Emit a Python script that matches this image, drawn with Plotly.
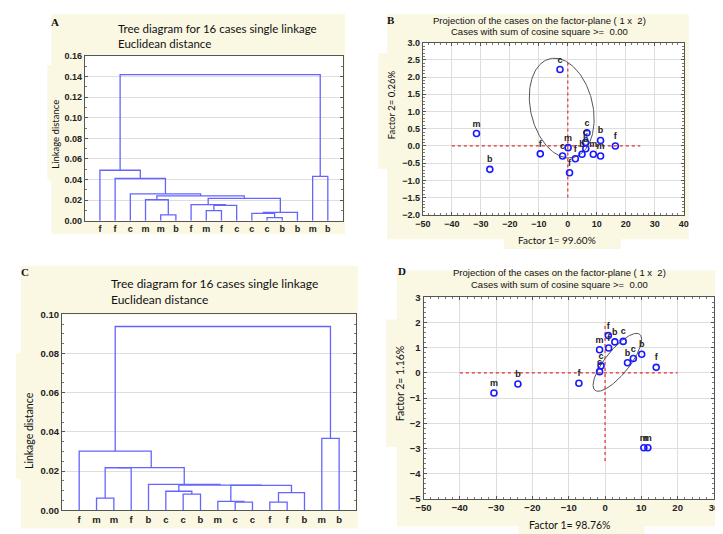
import numpy as np
import plotly.graph_objects as go

W, H = 723, 534

# ---------------- Data ----------------
# Panel A dendrogram
leaves_a = ["f", "f", "c", "m", "m", "b", "f", "m", "f", "c", "c", "c", "b", "b", "m", "b"]
merge_left_a = [4, 3, 7, 18, 6, 11, 10, 22, 20, 17, 2, 1, 0, 14, 28]
merge_right_a = [5, 16, 8, 9, 19, 12, 21, 13, 23, 24, 25, 26, 27, 15, 29]
merge_height_a = [0.0057, 0.0203, 0.0098, 0.0149, 0.0155, 0.0030, 0.0070, 0.0080,
                  0.0216, 0.0240, 0.0260, 0.0410, 0.0490, 0.0430, 0.1420]

# Panel C dendrogram
leaves_c = ["f", "m", "m", "f", "b", "c", "c", "b", "m", "c", "c", "f", "f", "b", "m", "b"]
merge_left_c = [1, 16, 6, 5, 9, 8, 11, 22, 21, 19, 4, 17, 0, 14, 28]
merge_right_c = [2, 3, 7, 18, 10, 20, 12, 13, 23, 24, 25, 26, 27, 15, 29]
merge_height_c = [0.0062, 0.0217, 0.0082, 0.0097, 0.0042, 0.0045, 0.0042, 0.0090,
                  0.0127, 0.0128, 0.0132, 0.0218, 0.0302, 0.0367, 0.0938]

# Panel B scatter (factor plane)
labels_b = ["m", "b", "c", "f", "m", "c", "f", "f", "c", "b", "f", "b", "c", "b", "m", "m"]
f1_b = [-31.5, -26.9, -2.7, -9.5, 0.1, -1.8, 2.6, 0.6, 6.6, 11.3, 16.4, 4.9, 6.1, 6.2, 8.8, 11.3]
f2_b = [0.36, -0.68, 2.22, -0.23, -0.05, -0.29, -0.37, -0.78, 0.38, 0.16, 0.00, -0.24, 0.10, -0.08, -0.24, -0.29]

# Panel D scatter
labels_d = ["m", "b", "f", "f", "m", "m", "f", "b", "c", "m", "f", "b", "c", "b", "c", "c"]
f1_d = [-30.6, -24.0, -7.2, 14.1, 10.7, 11.8, 0.9, 2.7, 5.0, -1.5, 1.0, 6.2, 7.8, 10.1, -1.1, -1.5]
f2_d = [-0.80, -0.44, -0.41, 0.22, -2.97, -2.97, 1.48, 1.23, 1.25, 0.92, 0.99, 0.40, 0.57, 0.74, 0.28, 0.05]

# Ellipse / crosshair parameters
ell_b = dict(cx=-2.1, cy=1.1, ax=10.9, bx=-2.5, ay=1.45)
ell_d = dict(cx=3.4, cy=0.42, A=6.7, B=1.15, phi=0.66)
cross_b = dict(x0=-40, x1=25, y0=-1.5, y1=2.5)
cross_d = dict(x0=-40, x1=20, y0=-3.5, y1=2.0)

BLUE_LINE = "#6464ff"
BEIGE = "#faf7e3"
TICKFONT = dict(family="Liberation Sans", size=9, color="#222", weight="bold")
TF9 = dict(family="Liberation Sans", size=9.5, color="#222", weight="bold")


def dendro(left, right, height, n):
    xpos = {i: i + 1.0 for i in range(n)}
    hpos = {i: 0.0 for i in range(n)}
    xs, ys = [], []
    for k, (l, r, h) in enumerate(zip(left, right, height)):
        xl, xr = xpos[l], xpos[r]
        xs += [xl, xl, xr, xr, None]
        ys += [hpos[l], h, h, hpos[r], None]
        cid = n + k
        xpos[cid] = (xl + xr) / 2
        hpos[cid] = h
    return xs, ys


fig = go.Figure()

xa, ya = dendro(merge_left_a, merge_right_a, merge_height_a, len(leaves_a))
fig.add_trace(go.Scatter(x=xa, y=ya, mode="lines", line=dict(color=BLUE_LINE, width=1.3),
                         xaxis="x", yaxis="y", hoverinfo="skip"))
xc, yc = dendro(merge_left_c, merge_right_c, merge_height_c, len(leaves_c))
fig.add_trace(go.Scatter(x=xc, y=yc, mode="lines", line=dict(color=BLUE_LINE, width=1.3),
                         xaxis="x3", yaxis="y3", hoverinfo="skip"))

t = np.linspace(0, 2 * np.pi, 200)


def add_scatter_panel(xs, ys, labels, ell, cross, xa_, ya_, kind):
    fig.add_trace(go.Scatter(x=[cross["x0"], cross["x1"]], y=[0, 0], mode="lines",
                             line=dict(color="#e03030", width=1.2, dash="dot"),
                             xaxis=xa_, yaxis=ya_, hoverinfo="skip"))
    fig.add_trace(go.Scatter(x=[0, 0], y=[cross["y0"], cross["y1"]], mode="lines",
                             line=dict(color="#e03030", width=1.2, dash="dot"),
                             xaxis=xa_, yaxis=ya_, hoverinfo="skip"))
    if kind == "b":
        ex = ell["cx"] + ell["ax"] * np.cos(t) + ell["bx"] * np.sin(t)
        ey = ell["cy"] + ell["ay"] * np.sin(t)
    else:
        ex = ell["cx"] + ell["A"] * np.cos(t)
        ey = ell["cy"] + ell["B"] * np.cos(t - ell["phi"])
    fig.add_trace(go.Scatter(x=ex, y=ey, mode="lines", line=dict(color="#555", width=1),
                             xaxis=xa_, yaxis=ya_, hoverinfo="skip"))
    fig.add_trace(go.Scatter(x=xs, y=ys, mode="markers+text", text=labels,
                             textposition="top center",
                             textfont=dict(family="Liberation Sans", size=9, color="#222",
                                           weight="bold"),
                             marker=dict(symbol="circle-open", size=6, color="#1a1aff",
                                         line=dict(width=1.6, color="#1a1aff")),
                             xaxis=xa_, yaxis=ya_, hoverinfo="skip"))


add_scatter_panel(f1_b, f2_b, labels_b, ell_b, cross_b, "x2", "y2", "b")
add_scatter_panel(f1_d, f2_d, labels_d, ell_d, cross_d, "x4", "y4", "d")

# plot-area pixel boxes (x0, x1, y0, y1)
box_a = (70, 333, 43, 211)
box_b = (414.3, 680, 29.3, 205)
box_c = (46.7, 346.7, 306.7, 506.7)
box_d = (415, 710.7, 289.3, 495)


def dom(x0, x1, y0, y1):
    return [x0 / W, x1 / W], [1 - y1 / H, 1 - y0 / H]


def ax_style(**kw):
    d = dict(showline=True, linecolor="#555", linewidth=1, mirror="ticks",
             ticks="inside", ticklen=3, tickcolor="#555", showgrid=True,
             gridcolor="#dedede", zeroline=False, tickfont=TICKFONT, fixedrange=True)
    d.update(kw)
    return d


dAx, dAy = dom(*box_a)
dBx, dBy = dom(*box_b)
dCx, dCy = dom(*box_c)
dDx, dDy = dom(*box_d)

minor = dict(ticks="inside", ticklen=2, tickcolor="#777", showgrid=False)

layout = dict(
    width=W, height=H, margin=dict(l=0, r=0, t=0, b=0),
    paper_bgcolor="white", plot_bgcolor="white", showlegend=False,
    xaxis=ax_style(domain=dAx, anchor="y", range=[0, 17], tickvals=list(range(1, 17)),
                   ticktext=leaves_a, showgrid=False, ticks=""),
    yaxis=ax_style(domain=dAy, anchor="x", range=[0, 0.16], dtick=0.02, tickformat=".2f",
                   minor=dict(minor, dtick=0.01)),
    xaxis3=ax_style(domain=dCx, anchor="y3", range=[0, 17], tickvals=list(range(1, 17)),
                    ticktext=leaves_c, showgrid=False, ticks="", tickfont=TF9),
    yaxis3=ax_style(domain=dCy, anchor="x3", range=[0, 0.10], dtick=0.02, tickformat=".2f",
                    minor=dict(minor, dtick=0.005), tickfont=TF9),
    xaxis2=ax_style(domain=dBx, anchor="y2", range=[-50, 40], dtick=10,
                    minor=dict(minor, dtick=2)),
    yaxis2=ax_style(domain=dBy, anchor="x2", range=[-2, 3], dtick=0.5, tickformat=".1f",
                    minor=dict(minor, dtick=0.1)),
    xaxis4=ax_style(domain=dDx, anchor="y4", range=[-50, 30], dtick=10,
                    minor=dict(minor, dtick=2), tickfont=TF9),
    yaxis4=ax_style(domain=dDy, anchor="x4", range=[-5, 3], dtick=1,
                    minor=dict(minor, dtick=0.2), tickfont=TF9),
)


def rect(x0, y0, x1, y1, color=BEIGE):
    return dict(type="rect", xref="paper", yref="paper", x0=x0 / W, x1=x1 / W,
                y0=1 - y1 / H, y1=1 - y0 / H, fillcolor=color, line=dict(width=0),
                layer="below")


def white_box(b):
    return rect(b[0], b[2], b[1], b[3], "white")


shapes = [
    rect(36, 0, 335, 225), rect(32, 52, 50, 170),
    rect(378, 0, 685, 230), rect(369, 40, 393, 158), rect(497, 222, 616, 240),
    rect(5, 257, 348, 525), rect(0, 346, 23, 475),
    rect(388, 262, 723, 523), rect(377, 312, 403, 442), rect(512, 500, 640, 534),
    white_box(box_a), white_box(box_b), white_box(box_c), white_box(box_d),
]
layout["shapes"] = shapes


def ann(text, x, y, size=12, family="Lato", xanchor="left", angle=0, weight="normal"):
    return dict(text=text, x=x / W, y=1 - y / H, xref="paper", yref="paper",
                showarrow=False, xanchor=xanchor, yanchor="middle", textangle=angle,
                font=dict(family=family, size=size, color="#111", weight=weight))


annotations = [
    ann("A", 40, 8, 11, "Liberation Serif", "center", weight="bold"),
    ann("Tree diagram for 16 cases single linkage", 102, 15, 11.5),
    ann("Euclidean distance", 102, 30, 11.5),
    ann("Linkage distance", 40, 123, 9.5, xanchor="center", angle=-90),
    ann("B", 382, 6, 11, "Liberation Serif", "center", weight="bold"),
    ann("Projection of the cases on the factor-plane ( 1 x  2)", 533, 7, 9.5,
        "Liberation Sans", "center"),
    ann("Cases with sum of cosine square >=  0.00", 533, 18, 9.5, "Liberation Sans", "center"),
    ann("Factor 2= 0.26%", 382, 93, 9.5, xanchor="center", angle=-90),
    ann("Factor 1= 99.60%", 551, 231, 10, xanchor="center"),
    ann("C", 9, 263, 11, "Liberation Serif", "center", weight="bold"),
    ann("Tree diagram for 16 cases single linkage", 95, 275, 12),
    ann("Euclidean distance", 95, 292, 12),
    ann("Linkage distance", 13, 425, 10.5, xanchor="center", angle=-90),
    ann("D", 393, 262, 11, "Liberation Serif", "center", weight="bold"),
    ann("Projection of the cases on the factor-plane ( 1 x  2)", 553, 264, 9.5,
        "Liberation Sans", "center"),
    ann("Cases with sum of cosine square >=  0.00", 553, 276, 9.5, "Liberation Sans", "center"),
    ann("Factor 2= 1.16%", 391, 377, 10.5, xanchor="center", angle=-90),
    ann("Factor 1= 98.76%", 564, 522, 10.5, xanchor="center"),
]
layout["annotations"] = annotations

fig.update_layout(**layout)
fig.write_html("out.html")
